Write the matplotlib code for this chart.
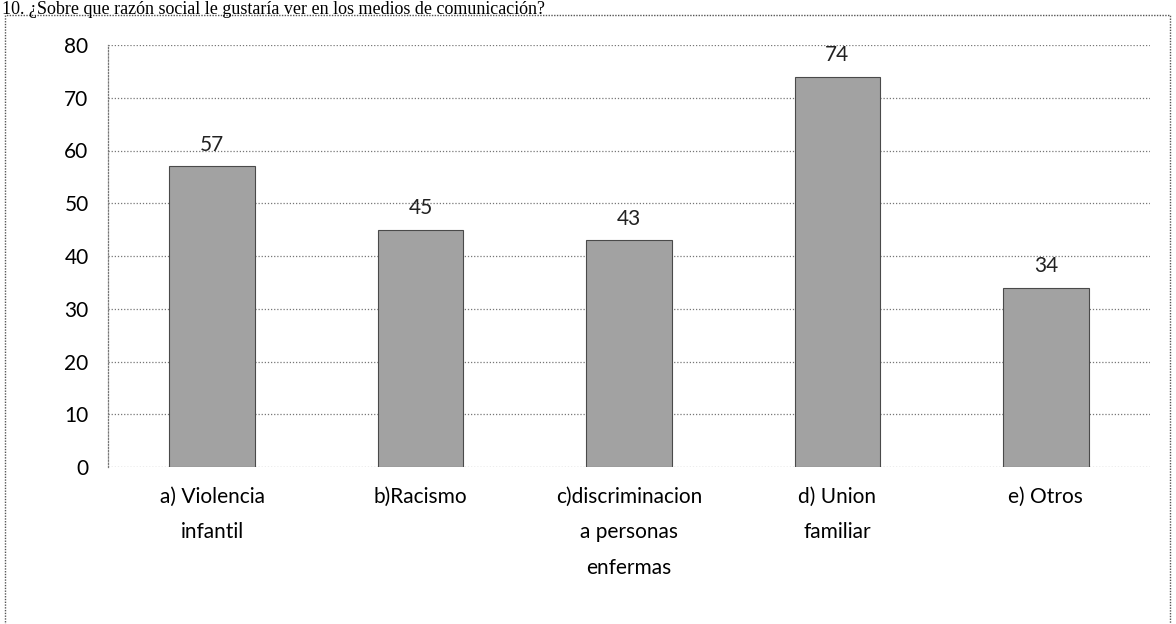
import matplotlib
matplotlib.use("Agg")
import matplotlib.pyplot as plt
from matplotlib.patches import Rectangle

categories = ["a) Violencia\ninfantil", "b)Racismo", "c)discriminacion\na personas\nenfermas",
              "d) Union\nfamiliar", "e) Otros"]
values = [57, 45, 43, 74, 34]
yticks = [0, 10, 20, 30, 40, 50, 60, 70, 80]
question = "10. ¿Sobre que razón social le gustaría ver en los medios de comunicación?"

fig = plt.figure(figsize=(11.76, 6.24), dpi=100)
fig.patch.set_facecolor("white")

# outer chart frame (dotted, as in the scanned page)
frame = Rectangle((5 / 1176, -0.05), 1165 / 1176, 1.05 - 15 / 624, transform=fig.transFigure,
                  fill=False, ls=(0, (1, 1)), lw=1.0, ec="#555555")
fig.add_artist(frame)

# question text at the very top of the scan
fig.text(2 / 1176, 1 - 1 / 624, question, ha="left", va="top", fontsize=13,
         family="Liberation Serif", color="black")

ax = fig.add_axes([108 / 1176, 1 - 467 / 624, 1042 / 1176, (467 - 45) / 624])
x = range(len(categories))
ax.bar(x, values, width=0.41, color="#a2a2a2", edgecolor="#4a4a4a", lw=0.8, zorder=3)
for i, v in zip(x, values):
    ax.text(i, v + 2.2, str(v), ha="center", va="bottom", fontsize=15, family="Lato", color="#222222")

ax.set_xlim(-0.5, len(categories) - 0.5)
ax.set_ylim(0, 80)
ax.set_yticks(yticks)
ax.set_yticklabels([str(t) for t in yticks], fontsize=15, family="Lato")
ax.set_xticks(list(x))
ax.set_xticklabels(categories, fontsize=15, family="Lato", linespacing=2.0)
ax.tick_params(length=0, pad=14)
ax.tick_params(axis="x", pad=14)
ax.grid(axis="y", ls=(0, (1, 1.5)), color="#777777", lw=0.9, zorder=0)
for s in ["top", "right", "bottom"]:
    ax.spines[s].set_visible(False)
ax.spines["left"].set_linestyle((0, (1, 1.5)))
ax.spines["left"].set_color("#777777")
ax.spines["left"].set_linewidth(0.9)

fig.savefig("out.png", dpi=100)
